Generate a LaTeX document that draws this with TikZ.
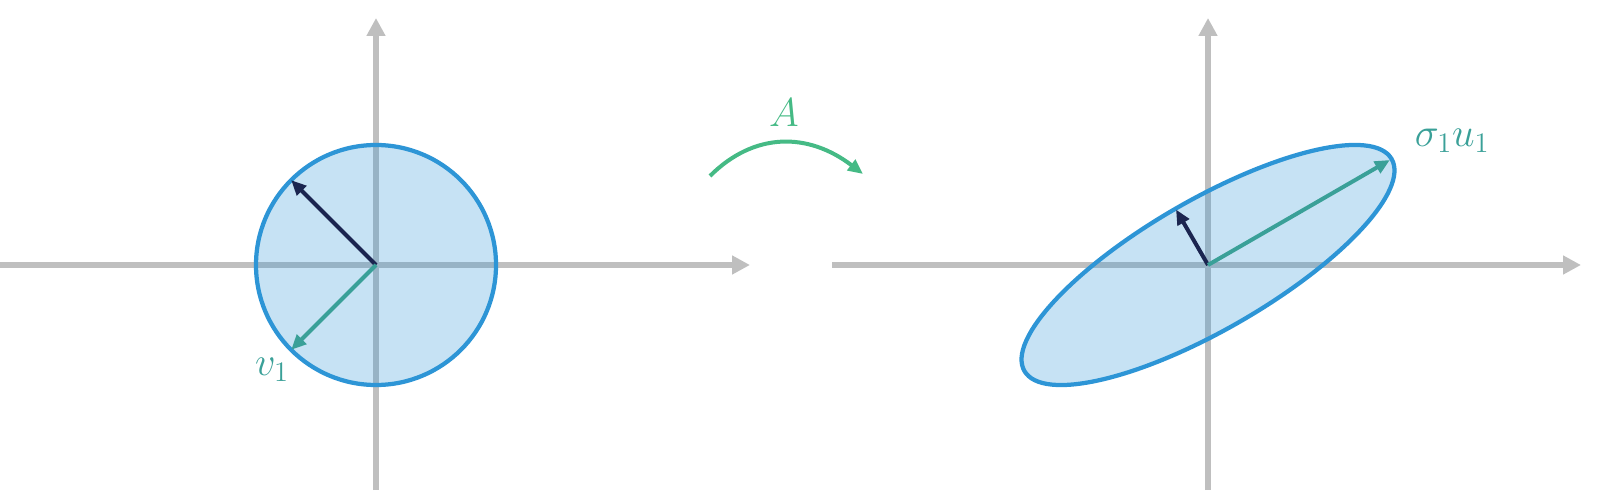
\RequirePackage{fix-cm}
\documentclass[tikz,border=0pt]{standalone}
\usepackage{amsmath}
\usepackage{tikz}
\usetikzlibrary{arrows.meta}

\definecolor{axisgray}{RGB}{191,191,191}
\definecolor{blobblue}{RGB}{45,149,214}
\definecolor{navyvec}{RGB}{27,37,80}
\definecolor{tealvec}{RGB}{58,160,152}
\definecolor{mapgreen}{RGB}{69,186,133}

\tikzset{
  axis/.style={color=axisgray, line width=.12cm, -{Triangle[length=.36cm,width=.36cm]}},
  vec/.style={line width=.08cm, -{Triangle[length=.3cm,width=.26cm]}},
  region/.style={draw=blobblue, fill=blobblue, fill opacity=.27, line width=.085cm}
}

\begin{document}
\begin{tikzpicture}[x=0.02cm, y=0.02cm, font=\fontsize{23}{27}\selectfont]
\useasboundingbox (0,0) rectangle (1601,490);

\coordinate (O1) at (376,225);
\coordinate (O2) at (1208,225);

% axes
\coordinate (L1) at (0,225);
\coordinate (R1) at (750,225);
\coordinate (B1) at (376,0);
\coordinate (T1) at (376,472);
\coordinate (L2) at (832,225);
\coordinate (R2) at (1581,225);
\coordinate (B2) at (1208,0);
\coordinate (T2) at (1208,472);

\draw[axis] (L1)--(R1);
\draw[axis] (B1)--(T1);
\draw[axis] (L2)--(R2);
\draw[axis] (B2)--(T2);

% unit circle and its image
\draw[region] (O1) circle (120);
\draw[region, rotate around={30:(O2)}] (O2) ellipse [x radius=212, y radius=65];

% vectors
\coordinate (a1) at ([shift={(135:120)}]O1);
\coordinate (b1) at ([shift={(225:120)}]O1);
\coordinate (a2) at ([shift={(120:64)}]O2);
\coordinate (b2) at ([shift={(30:210)}]O2);

\draw[vec, color=navyvec] (O1)--(a1);
\draw[vec, color=tealvec] (O1)--(b1);
\draw[vec, color=navyvec] (O2)--(a2);
\draw[vec, color=tealvec] (O2)--(b2);

\node(v)[text=tealvec] at (272,120) {$v_1$};
\node(su)[text=tealvec] at (1452,349) {$\sigma_1 u_1$};

% the map
\coordinate (s) at (710,314);
\coordinate (e) at (863,316);
\draw[vec, color=mapgreen] (s) .. controls (754,358) and (808,358) .. (e);
\node(A)[text=mapgreen] at (784,377) {$A$};
\end{tikzpicture}
\end{document}
